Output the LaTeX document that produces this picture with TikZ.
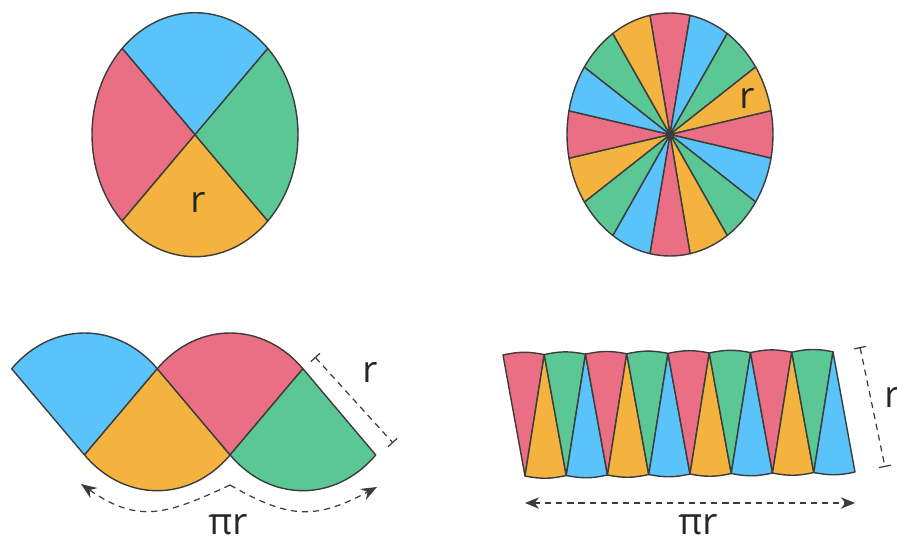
\documentclass[tikz,border=0pt]{standalone}
\usepackage{fontspec}
\setmainfont{Open Sans}
\usetikzlibrary{arrows.meta}
\definecolor{slicepink}{HTML}{EA6F84}
\definecolor{sliceblue}{HTML}{5AC4FA}
\definecolor{slicegreen}{HTML}{5AC794}
\definecolor{sliceyellow}{HTML}{F4B33E}
\definecolor{edgegray}{HTML}{3C3C3C}

\begin{document}
\begin{tikzpicture}[x=0.02cm,y=0.02cm,
    piece/.style={draw=edgegray,line width=0.8pt,line join=round},
    measure/.style={draw=edgegray,line width=0.7pt,dash pattern=on 3.5pt off 2.8pt},
    tip/.style={-{Stealth[length=9pt,width=7pt,inset=3pt]}},
    tips/.style={{Stealth[length=8pt,width=6.5pt,inset=2.5pt]}-{Stealth[length=8pt,width=6.5pt,inset=2.5pt]}},
    bars/.style={{Bar[width=7pt]}-{Bar[width=7pt]}},
    lbl/.style={font=\fontsize{21}{24}\selectfont,text=black!85,inner sep=0pt}]
    \useasboundingbox (0,0) rectangle (897,545);

    \begin{scope}[shift={(195,410.3)},xscale=103,yscale=122]
        \path[piece,fill=sliceblue] (0,0) -- (45:1) arc[start angle=45,end angle=135,radius=1] -- cycle;
        \path[piece,fill=slicepink] (0,0) -- (135:1) arc[start angle=135,end angle=225,radius=1] -- cycle;
        \path[piece,fill=sliceyellow] (0,0) -- (225:1) arc[start angle=225,end angle=315,radius=1] -- cycle;
        \path[piece,fill=slicegreen] (0,0) -- (-45:1) arc[start angle=-45,end angle=45,radius=1] -- cycle;
    \end{scope}
    \node[lbl] (r1) at (198,343) {r};

    \begin{scope}[shift={(670,410.5)},xscale=103,yscale=121.5]
        \foreach \q in {0,...,3}
        \foreach \c [count=\n from 0] in {slicepink,sliceblue,slicegreen,sliceyellow} {
            \pgfmathsetmacro{\a}{90-22.5*(4*\q+\n)}
            \path[piece,fill=\c] (0,0) -- ({\a+11.25}:1) arc[start angle=\a+11.25,end angle=\a-11.25,radius=1] -- cycle;
        }
    \end{scope}
    \node[lbl] (r2) at (747,447) {r};

    \path[piece,fill=sliceblue,shift={(84.5,90)},xscale=103,yscale=122] (0,0) -- (45:1) arc[start angle=45,end angle=135,radius=1] -- cycle;
    \path[piece,fill=sliceyellow,shift={(157.3,176.3)},xscale=103,yscale=122] (0,0) -- (225:1) arc[start angle=225,end angle=315,radius=1] -- cycle;
    \path[piece,fill=slicepink,shift={(230.1,90)},xscale=103,yscale=122] (0,0) -- (45:1) arc[start angle=45,end angle=135,radius=1] -- cycle;
    \path[piece,fill=slicegreen,shift={(302.9,176.3)},xscale=103,yscale=122] (0,0) -- (225:1) arc[start angle=225,end angle=315,radius=1] -- cycle;

    \coordinate (dimA) at (315,188);
    \coordinate (dimB) at (393,102);
    \draw[measure,bars] (dimA) -- (dimB);
    \node[lbl] (r3) at (370,173) {r};

    \coordinate (pivot) at (230,60);
    \coordinate (leftend) at (81,61);
    \coordinate (rightend) at (377,58);
    \draw[measure,tip] (pivot) to[out=205,in=-35,looseness=1.2] (leftend);
    \draw[measure,tip] (pivot) to[out=-30,in=208,looseness=1.2] (rightend);
    \node[lbl] (pr1) at (228,20) {πr};

    \foreach \i in {0,...,8} {
        \coordinate (t\i) at ({503+41.25*\i},{190+0.4*\i});
        \coordinate (b\i) at ({525+41.25*\i},{69+0.5*\i});
    }
    \foreach \i/\j/\up/\dn in {0/1/slicepink/sliceyellow,1/2/slicegreen/sliceblue,
        2/3/slicepink/sliceyellow,3/4/slicegreen/sliceblue,4/5/slicepink/sliceyellow,
        5/6/slicegreen/sliceblue,6/7/slicepink/sliceyellow,7/8/slicegreen/sliceblue} {
        \path[piece,fill=\up] (t\i) to[bend left=12] (t\j) -- (b\i) -- cycle;
        \path[piece,fill=\dn] (b\i) to[bend right=12] (b\j) -- (t\j) -- cycle;
    }

    \coordinate (dimC) at (860,198);
    \coordinate (dimD) at (885,78);
    \draw[measure,bars] (dimC) -- (dimD);
    \node[lbl] (r4) at (892,148) {r};

    \coordinate (wideL) at (525,42);
    \coordinate (wideR) at (855,42);
    \draw[measure,tips] (wideL) -- (wideR);
    \node[lbl] (pr2) at (698,20) {πr};
\end{tikzpicture}
\end{document}
